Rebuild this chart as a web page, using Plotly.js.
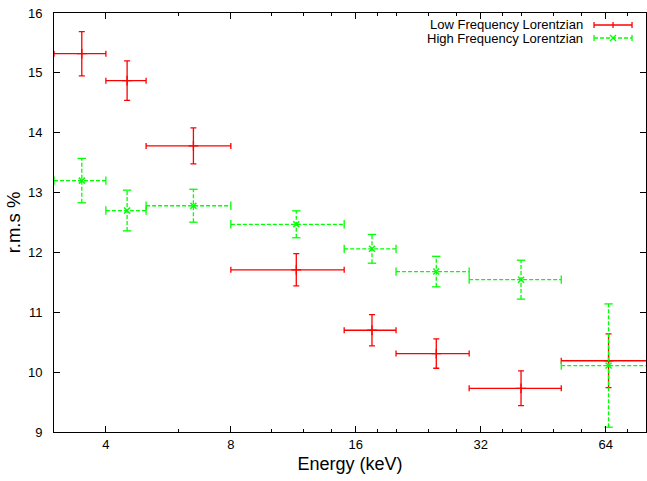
<!DOCTYPE html>
<html>
<head>
<meta charset="utf-8">
<script src="https://cdn.plot.ly/plotly-3.0.1.min.js"></script>
<style>html,body{margin:0;padding:0;background:#fff;}#chart{width:647px;height:481px;}</style>
</head>
<body>
<div id="chart"></div>
<script>
// Energy bins (keV): centre, lower edge, upper edge
var energyCenter = [3.5, 4.5, 6.5, 11.5, 17.5, 25, 40, 65];
var energyLow    = [3, 4, 5, 8, 15, 20, 30, 50];
var energyHigh   = [4, 5, 8, 15, 20, 30, 50, 90];

// Low Frequency Lorentzian r.m.s %
var lowRms    = [15.32, 14.87, 13.78, 11.71, 10.70, 10.31, 9.73, 10.19];
var lowRmsErr = [0.37, 0.33, 0.30, 0.27, 0.26, 0.245, 0.29, 0.45];

// High Frequency Lorentzian r.m.s %
var highRms    = [13.20, 12.70, 12.78, 12.47, 12.06, 11.68, 11.545, 10.11];
var highRmsErr = [0.37, 0.34, 0.275, 0.225, 0.24, 0.255, 0.325, 1.03];

var xTickVals = [4, 8, 16, 32, 64];
var xTickText = ['4', '8', '16', '32', '64'];
var xMinorVals = [6, 10, 12, 14, 18, 20, 24, 28, 36, 40, 48, 56, 72];
var yTickVals = [9, 10, 11, 12, 13, 14, 15, 16];

var seriesNames = ['Low Frequency Lorentzian', 'High Frequency Lorentzian'];

var RED = '#ff0000', GREEN = '#00ff00';
var FONT = 'Liberation Sans, Arial, sans-serif';

var n = energyCenter.length;
var xMinus = [], xPlus = [];
for (var i = 0; i < n; i++) {
  xMinus.push(energyCenter[i] - energyLow[i]);
  xPlus.push(energyHigh[i] - energyCenter[i]);
}

// Low frequency: solid error bars
var lowTrace = {
  type: 'scatter', mode: 'markers', name: seriesNames[0], showlegend: false,
  x: energyCenter, y: lowRms,
  marker: {symbol: 'cross-thin-open', size: 7, color: RED, line: {color: RED, width: 1.3}},
  error_x: {type: 'data', symmetric: false, array: xPlus, arrayminus: xMinus, color: RED, thickness: 1.3, width: 3},
  error_y: {type: 'data', array: lowRmsErr, color: RED, thickness: 1.3, width: 3},
  cliponaxis: true
};

// High frequency: dashed error bars built as line segments from the data
var hx = [], hy = [];
var capNSx = [], capNSy = [], capEWx = [], capEWy = [];
for (var j = 0; j < n; j++) {
  hx.push(energyLow[j], energyHigh[j], null);
  hy.push(highRms[j], highRms[j], null);
  hx.push(energyCenter[j], energyCenter[j], null);
  hy.push(highRms[j] - highRmsErr[j], highRms[j] + highRmsErr[j], null);
  capNSx.push(energyLow[j], energyHigh[j]);
  capNSy.push(highRms[j], highRms[j]);
  capEWx.push(energyCenter[j], energyCenter[j]);
  capEWy.push(highRms[j] - highRmsErr[j], highRms[j] + highRmsErr[j]);
}
var highBars = {
  type: 'scatter', mode: 'lines', showlegend: false, hoverinfo: 'skip',
  x: hx, y: hy, connectgaps: false,
  line: {color: GREEN, width: 1.3, dash: '4px,2px'}
};
var highCapsNS = {
  type: 'scatter', mode: 'markers', showlegend: false, hoverinfo: 'skip',
  x: capNSx, y: capNSy,
  marker: {symbol: 'line-ns-open', size: 6, color: GREEN, line: {color: GREEN, width: 1.3}}
};
var highCapsEW = {
  type: 'scatter', mode: 'markers', showlegend: false, hoverinfo: 'skip',
  x: capEWx, y: capEWy,
  marker: {symbol: 'line-ew-open', size: 6, color: GREEN, line: {color: GREEN, width: 1.3}}
};
var highTrace = {
  type: 'scatter', mode: 'markers', name: seriesNames[1], showlegend: false,
  x: energyCenter, y: highRms,
  marker: {symbol: 'x-thin-open', size: 6, color: GREEN, line: {color: GREEN, width: 1.5}}
};

// Custom legend (gnuplot style: text left, sample right)
var legX = 0.897, legSample = 0.9443;
var legY = [0.9714, 0.9403];
var legColors = [RED, GREEN];
var legDash = ['solid', '4px,2px'];
var annotations = [], shapes = [];
for (var k = 0; k < 2; k++) {
  annotations.push({
    xref: 'paper', yref: 'paper', x: legX, y: legY[k], xanchor: 'right', yanchor: 'middle',
    text: seriesNames[k], showarrow: false, font: {family: FONT, size: 13, color: '#000'}
  });
  var base = {xref: 'paper', yref: 'paper', xsizemode: 'pixel', ysizemode: 'pixel',
              xanchor: legSample, yanchor: legY[k]};
  shapes.push(Object.assign({}, base, {type: 'line', x0: -19, x1: 19, y0: 0, y1: 0,
    line: {color: legColors[k], width: 1.3, dash: legDash[k]}}));
  shapes.push(Object.assign({}, base, {type: 'line', x0: -19, x1: -19, y0: -3, y1: 3,
    line: {color: legColors[k], width: 1.3}}));
  shapes.push(Object.assign({}, base, {type: 'line', x0: 19, x1: 19, y0: -3, y1: 3,
    line: {color: legColors[k], width: 1.3}}));
  if (k === 0) {
    shapes.push(Object.assign({}, base, {type: 'line', x0: 0, x1: 0, y0: -3, y1: 3,
      line: {color: legColors[k], width: 1.3}}));
  } else {
    shapes.push(Object.assign({}, base, {type: 'line', x0: -3, x1: 3, y0: -3, y1: 3,
      line: {color: legColors[k], width: 1.3}}));
    shapes.push(Object.assign({}, base, {type: 'line', x0: -3, x1: 3, y0: 3, y1: -3,
      line: {color: legColors[k], width: 1.3}}));
  }
}

var layout = {
  width: 647, height: 481,
  margin: {l: 54, r: 1, t: 13, b: 49, pad: 0},
  paper_bgcolor: '#fff', plot_bgcolor: '#fff',
  font: {family: FONT, size: 13, color: '#000'},
  showlegend: false,
  xaxis: {
    type: 'log', range: [Math.log10(3), Math.log10(80)],
    tickmode: 'array', tickvals: xTickVals, ticktext: xTickText,
    ticks: 'inside', ticklen: 6, tickwidth: 1, tickcolor: '#000',
    minor: {tickmode: 'array', tickvals: xMinorVals, ticks: 'inside', ticklen: 3, tickcolor: '#000', showgrid: false},
    showline: true, linecolor: '#000', linewidth: 1, mirror: 'allticks',
    showgrid: false, zeroline: false,
    tickfont: {family: FONT, size: 13, color: '#000'},
    title: {text: 'Energy (keV)', font: {family: FONT, size: 18, color: '#000'}, standoff: 6}
  },
  yaxis: {
    range: [9, 16],
    tickmode: 'array', tickvals: yTickVals,
    ticks: 'inside', ticklen: 6, tickwidth: 1, tickcolor: '#000',
    showline: true, linecolor: '#000', linewidth: 1, mirror: 'allticks',
    showgrid: false, zeroline: false,
    ticklabelstandoff: 8,
    tickfont: {family: FONT, size: 13, color: '#000'},
    title: {text: 'r.m.s %', font: {family: FONT, size: 18.5, color: '#000'}, standoff: 2}
  },
  annotations: annotations,
  shapes: shapes
};

Plotly.newPlot('chart', [lowTrace, highBars, highCapsNS, highCapsEW, highTrace], layout,
  {staticPlot: true, displayModeBar: false});
</script>
</body>
</html>
